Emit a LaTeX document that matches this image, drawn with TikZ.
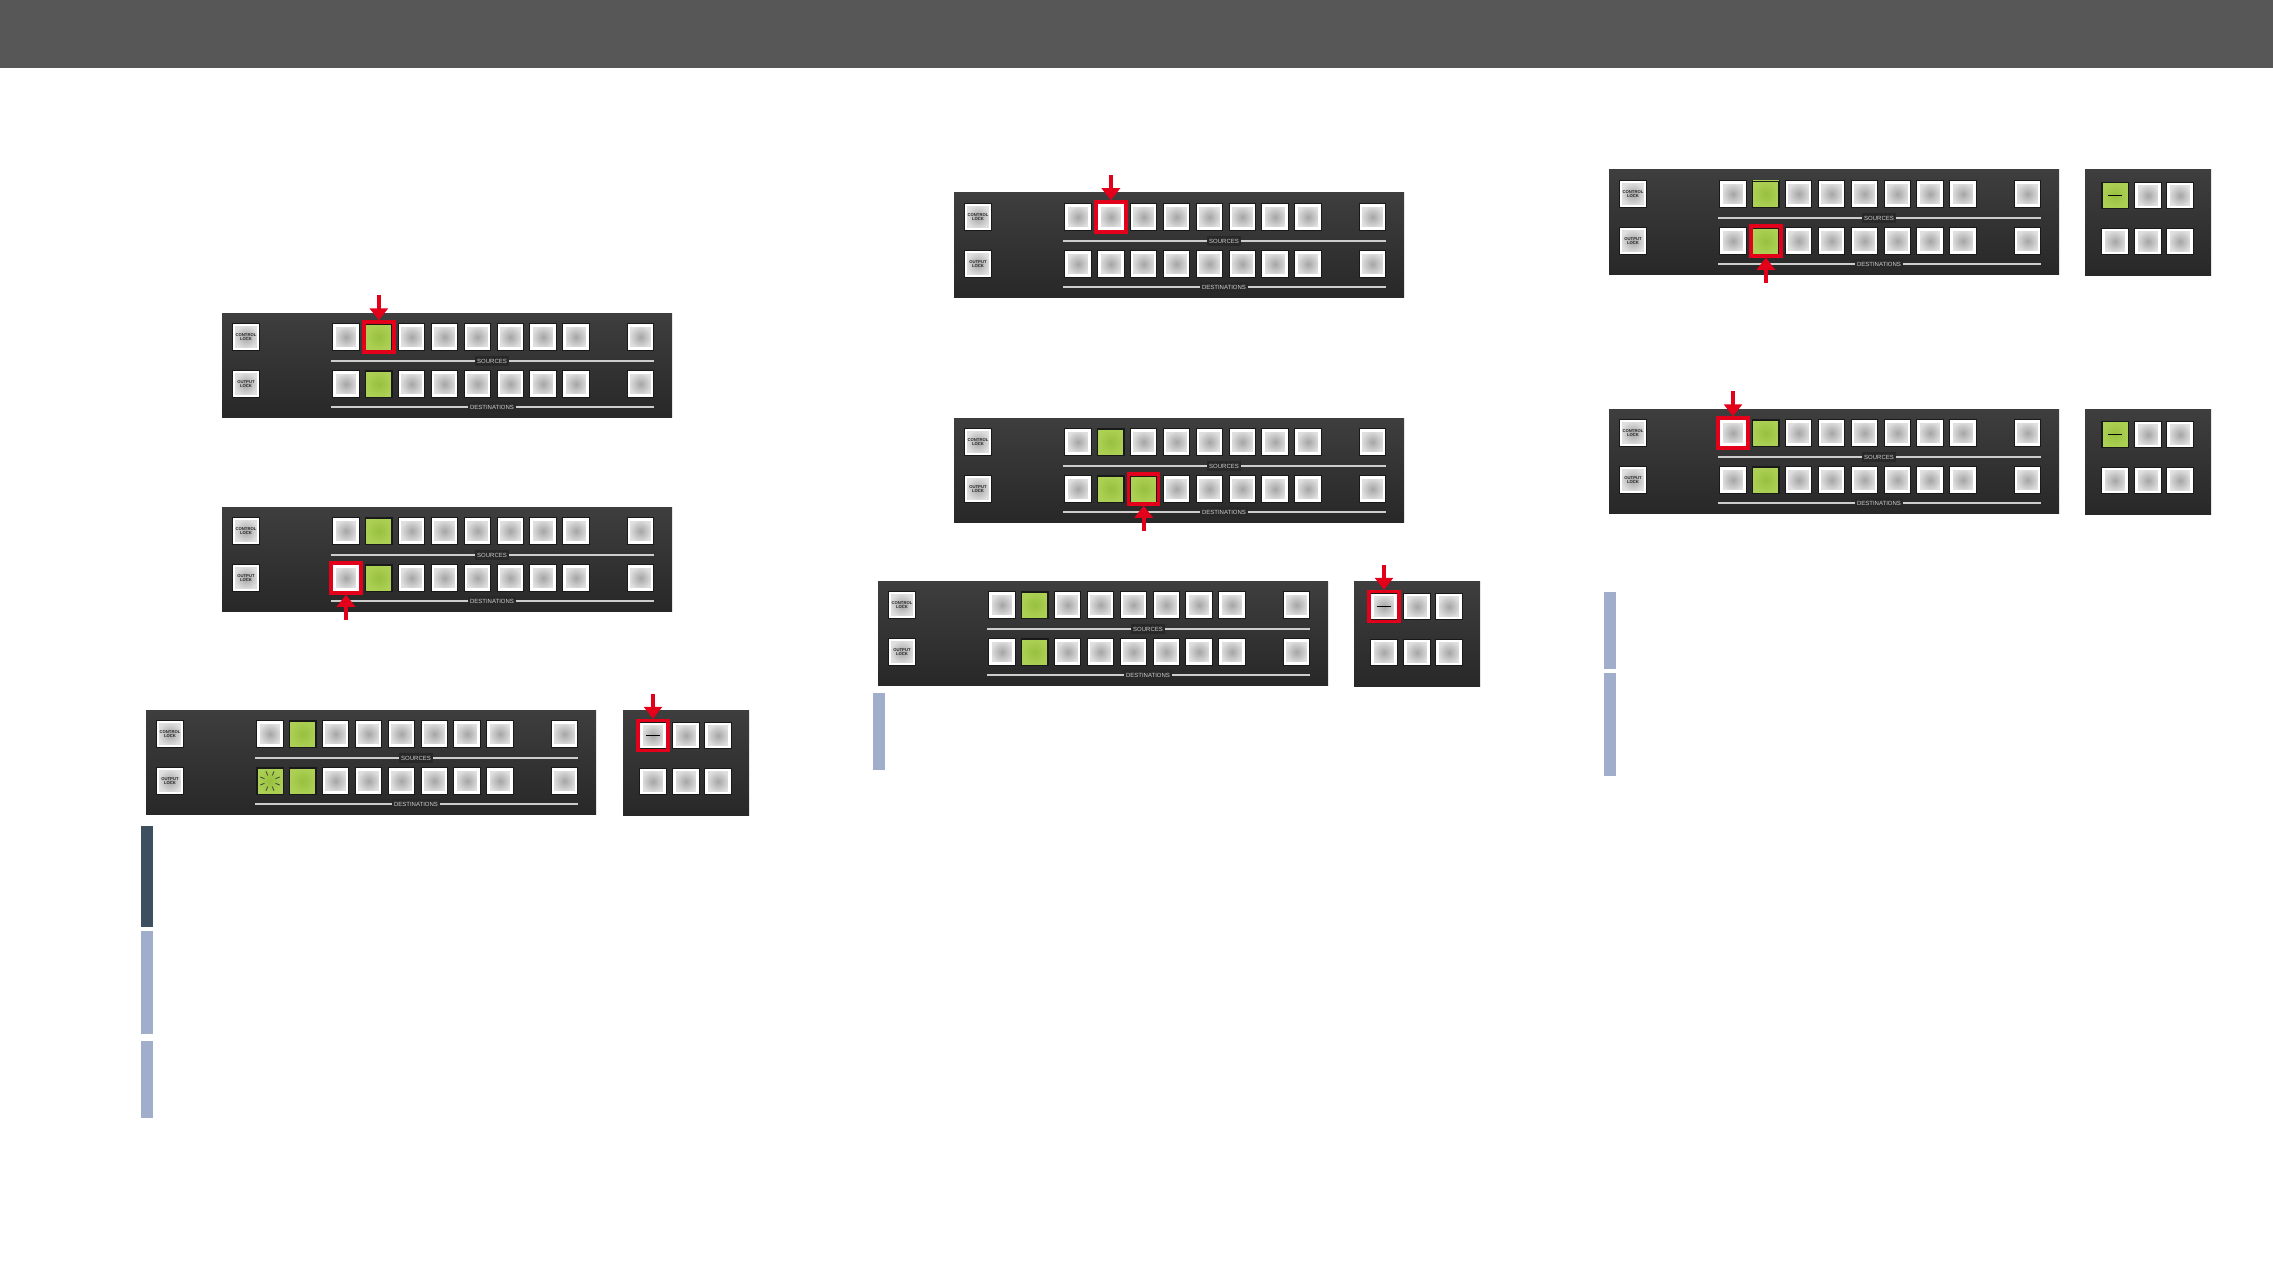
\documentclass[tikz,border=0pt]{standalone}
\usepackage{fontspec}
\setmainfont{Liberation Sans}
\setsansfont{Liberation Sans}
\usetikzlibrary{arrows.meta, positioning}
\definecolor{headgray}{RGB}{87, 87, 87}
\definecolor{panelbg}{RGB}{40, 40, 40}
\definecolor{panelhi}{RGB}{62, 62, 62}
\definecolor{btnface}{RGB}{224, 224, 224}
\definecolor{btncore}{RGB}{165, 165, 165}
\definecolor{btnedge}{RGB}{25, 25, 25}
\definecolor{greenface}{RGB}{172, 208, 84}
\definecolor{greencore}{RGB}{152, 192, 62}
\definecolor{markred}{RGB}{226, 0, 26}
\definecolor{legendgray}{RGB}{205, 205, 205}
\definecolor{bardark}{RGB}{62, 79, 95}
\definecolor{barlight}{RGB}{160, 174, 204}

\newcommand{\switchpanel}[3]{%
  \begin{scope}[shift={(#2,#3)}]
    \path[panel] (0,0) rectangle (450,104);
    \node[lockbtn] (#1-cl) at (24,24) {CONTROL\\LOCK};
    \node[lockbtn] (#1-ol) at (24,71) {OUTPUT\\LOCK};
    \foreach \i in {1,...,8} {
      \node[btn] (#1-s\i) at ({124+32.86*(\i-1)},24) {};
      \node[btn] (#1-d\i) at ({124+32.86*(\i-1)},71) {};
    }
    \node[btn] (#1-sx) at (418.5,24) {};
    \node[btn] (#1-dx) at (418.5,71) {};
    \draw[rule] (109,48) -- (432,48);
    \draw[rule] (109,94) -- (432,94);
    \node[legend] (#1-src) at (270,48) {SOURCES};
    \node[legend] (#1-dst) at (270,94) {DESTINATIONS};
  \end{scope}}

\newcommand{\sidepanel}[3]{%
  \begin{scope}[shift={(#2,#3)}]
    \path[panel] (0,0) rectangle (126,105);
    \foreach \c [count=\j] in {30,63,95} {
      \node[btn] (#1-a\j) at (\c,25.5) {};
      \node[btn] (#1-b\j) at (\c,71.5) {};
    }
  \end{scope}}

\begin{document}
\begin{tikzpicture}[
  x=1pt, y=-1pt,
  panel/.style={top color=panelhi, middle color=panelbg, bottom color=panelbg},
  btn/.style={rectangle, minimum size=23pt, inner sep=0pt,
              inner color=btncore, outer color=btnface,
              preaction={draw=btnedge, line width=4.5pt},
              postaction={draw=white, line width=2.5pt}},
  lockbtn/.style={btn, minimum size=24pt, align=center, text=black!85,
                  font=\fontsize{4.2}{4.4}\selectfont\bfseries},
  greenbtn/.style={rectangle, minimum size=26pt, inner sep=0pt,
                   draw=btnedge, line width=0.8pt,
                   inner color=greencore, outer color=greenface},
  hilite/.style={rectangle, draw=markred, line width=3.5pt,
                 minimum size=30pt, inner sep=0pt},
  redarrow/.style={-{Triangle[width=18pt, length=12pt]}, line width=4.2pt,
                   color=markred},
  rule/.style={draw=legendgray, line width=1.1pt},
  legend/.style={fill=panelbg, inner sep=2.5pt, text=legendgray,
                 font=\fontsize{6}{7}\selectfont},
  ray/.style={draw=black!75, line width=0.8pt},
  dashmark/.style={draw=black, line width=1.2pt},
  bar/.style={fill=barlight}
]
  \useasboundingbox (0,0) rectangle (2273,1276);
  \fill[headgray] (0,0) rectangle (2273,68);

  \switchpanel{pa}{222}{313}
  \node[greenbtn] (pa-g1) at (pa-s2) {};
  \node[greenbtn] (pa-g2) at (pa-d2) {};
  \node[hilite] (pa-h) at (pa-s2) {};
  \coordinate[above=25pt of pa-h] (pa-t);
  \draw[redarrow] (pa-t) -- (pa-h);

  \switchpanel{pb}{222}{507}
  \node[greenbtn] (pb-g1) at (pb-s2) {};
  \node[greenbtn] (pb-g2) at (pb-d2) {};
  \node[hilite] (pb-h) at (pb-d1) {};
  \coordinate[below=25pt of pb-h] (pb-t);
  \draw[redarrow] (pb-t) -- (pb-h);

  \switchpanel{pc}{146}{710}
  \node[greenbtn] (pc-g1) at (pc-s2) {};
  \node[greenbtn] (pc-g2) at (pc-d2) {};
  \node[greenbtn] (pc-g3) at (pc-d1) {};
  \foreach \a in {22.5,67.5,...,337.5}
    \draw[ray] ([shift={(\a:6)}]pc-g3.center) -- ([shift={(\a:10.5)}]pc-g3.center);
  \sidepanel{qc}{623}{710}
  \draw[dashmark] ([xshift=-7pt]qc-a1.center) -- ([xshift=7pt]qc-a1.center);
  \node[hilite] (qc-h) at (qc-a1) {};
  \coordinate[above=25pt of qc-h] (qc-t);
  \draw[redarrow] (qc-t) -- (qc-h);

  \fill[bardark] (141,826) rectangle (153,927);
  \fill[bar] (141,931) rectangle (153,1034);
  \fill[bar] (141,1041) rectangle (153,1118);

  \switchpanel{pd}{954}{193}
  \node[hilite] (pd-h) at (pd-s2) {};
  \coordinate[above=25pt of pd-h] (pd-t);
  \draw[redarrow] (pd-t) -- (pd-h);

  \switchpanel{pe}{954}{418}
  \node[greenbtn] (pe-g1) at (pe-s2) {};
  \node[greenbtn] (pe-g2) at (pe-d2) {};
  \node[greenbtn] (pe-g3) at (pe-d3) {};
  \node[hilite] (pe-h) at (pe-d3) {};
  \coordinate[below=25pt of pe-h] (pe-t);
  \draw[redarrow] (pe-t) -- (pe-h);

  \switchpanel{pf}{878}{581}
  \node[greenbtn] (pf-g1) at (pf-s2) {};
  \node[greenbtn] (pf-g2) at (pf-d2) {};
  \sidepanel{qf}{1354}{581}
  \draw[dashmark] ([xshift=-7pt]qf-a1.center) -- ([xshift=7pt]qf-a1.center);
  \node[hilite] (qf-h) at (qf-a1) {};
  \coordinate[above=25pt of qf-h] (qf-t);
  \draw[redarrow] (qf-t) -- (qf-h);

  \fill[bar] (873,693) rectangle (885,770);

  \switchpanel{pg}{1609}{170}
  \node[greenbtn] (pg-g1) at (pg-s2) {};
  \node[greenbtn] (pg-g2) at (pg-d2) {};
  \node[hilite] (pg-h) at (pg-d2) {};
  \coordinate[below=25pt of pg-h] (pg-t);
  \draw[redarrow] (pg-t) -- (pg-h);
  \sidepanel{qg}{2085}{170}
  \node[greenbtn] (qg-g1) at (qg-a1) {};
  \draw[dashmark] ([xshift=-7pt]qg-g1.center) -- ([xshift=7pt]qg-g1.center);

  \switchpanel{ph}{1609}{409}
  \node[greenbtn] (ph-g1) at (ph-s2) {};
  \node[greenbtn] (ph-g2) at (ph-d2) {};
  \node[hilite] (ph-h) at (ph-s1) {};
  \coordinate[above=25pt of ph-h] (ph-t);
  \draw[redarrow] (ph-t) -- (ph-h);
  \sidepanel{qh}{2085}{409}
  \node[greenbtn] (qh-g1) at (qh-a1) {};
  \draw[dashmark] ([xshift=-7pt]qh-g1.center) -- ([xshift=7pt]qh-g1.center);

  \fill[bar] (1604,592) rectangle (1616,669);
  \fill[bar] (1604,673) rectangle (1616,776);
\end{tikzpicture}
\end{document}
